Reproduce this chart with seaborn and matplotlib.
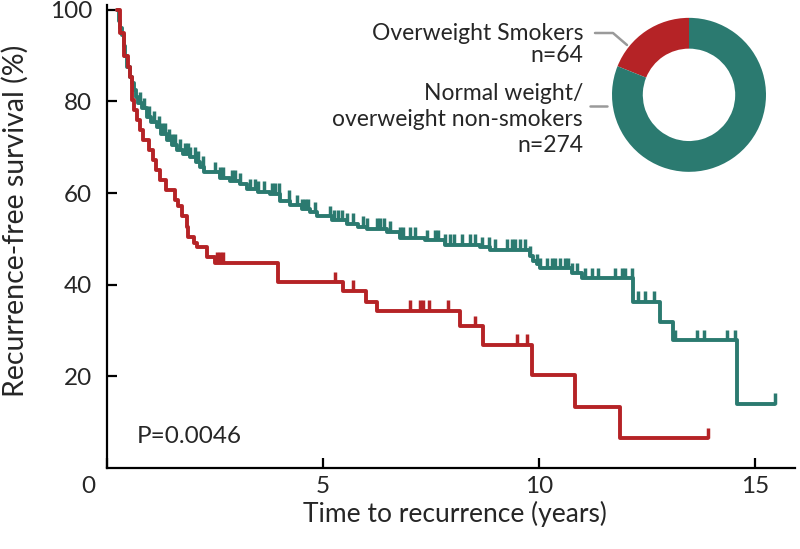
import numpy as np
import pandas as pd
import matplotlib
matplotlib.use("Agg")
import matplotlib.pyplot as plt
import matplotlib.transforms as mtransforms
from matplotlib.lines import Line2D
import seaborn as sns

TEAL = "#2b7a70"
RED = "#b52326"
GREY = "#9a9a9a"

# groups shown in the donut
group_labels = ["Overweight Smokers", "Normal weight/overweight non-smokers"]
group_sizes = [64, 274]

# Kaplan-Meier steps (years, % surviving)
smoker_time = [0.23, 0.30, 0.38, 0.48, 0.53, 0.57, 0.61, 0.70, 0.76, 0.84,
               0.97, 1.06, 1.14, 1.22, 1.37, 1.58, 1.65, 1.73, 1.85, 1.88,
               2.00, 2.08, 2.30, 2.50, 3.96, 5.47, 6.00, 6.24, 8.17, 8.70,
               9.83, 10.83, 11.88, 13.91]
smoker_surv = [100, 95, 90, 87.6, 85.4, 80.3, 78.2, 76, 73.8, 71.6,
               69.4, 67.2, 65.1, 62.9, 60.7, 58.5, 57.1, 54.9, 52.7, 50.5,
               49.1, 48.3, 46.1, 44.8, 40.5, 38.7, 36.3, 34.3, 30.9, 26.9,
               20.3, 13.4, 6.5, 6.5]
smoker_censor = [2.54, 2.62, 2.69, 5.28, 5.70, 7.01, 7.25, 7.32, 7.44, 7.89,
                 8.52, 9.49, 9.72, 13.91]

other_time = [0.23, 0.27, 0.30, 0.34, 0.38, 0.42, 0.47, 0.53, 0.57, 0.61,
              0.66, 0.72, 0.80, 0.92, 1.02, 1.15, 1.25, 1.38, 1.50, 1.61,
              1.75, 1.92, 2.05, 2.15, 2.23, 2.62, 2.85, 3.08, 3.23, 3.50,
              3.77, 4.00, 4.24, 4.50, 4.70, 4.85, 5.20, 5.55, 5.80, 6.01,
              6.47, 6.78, 7.36, 7.82, 8.63, 8.87, 9.79, 9.87, 9.95, 10.02,
              10.76, 10.99, 12.18, 12.80, 13.11, 14.58, 15.46]
other_surv = [100, 97.5, 96, 94.5, 92, 90, 87.5, 85.4, 84, 82.5,
              81, 79.7, 78.5, 76.7, 75.6, 74.5, 73, 71.6, 70.5, 69.4,
              68.6, 67.8, 66.8, 65.8, 64.5, 63.3, 62.7, 62.0, 60.8, 60.3,
              59.8, 58.3, 57.3, 56.5, 55.8, 54.9, 54.1, 53.3, 52.7, 52.2,
              51.5, 50.2, 49.7, 48.7, 48.2, 47.6, 46.2, 45.2, 44.5, 43.6,
              42.5, 41.4, 36.3, 31.9, 27.9, 14.0, 14.0]
other_censor = [0.75, 0.86, 0.97, 1.08, 1.19, 1.28, 1.34, 1.44, 1.50, 1.56,
                1.69, 1.81, 1.87, 1.92, 2.04, 2.11, 2.22, 2.50, 2.62,
                2.69, 2.89, 2.96, 3.08, 3.31, 3.43, 3.50, 3.62, 3.81, 3.89,
                3.97, 4.20, 4.39, 4.51, 4.58, 4.66, 4.81, 5.16, 5.24, 5.35,
                5.43, 5.55, 5.70, 5.93, 6.01, 6.24, 6.32, 6.40, 6.55, 6.78,
                6.86, 7.01, 7.13, 7.40, 7.59, 7.67, 7.82, 7.94, 8.02, 8.21,
                8.40, 8.52, 8.67, 8.83, 8.98, 9.25, 9.37, 9.44, 9.56, 9.68,
                9.79, 9.95, 10.02, 10.18, 10.29, 10.37, 10.49, 10.60, 10.68,
                10.76, 10.87, 11.06, 11.22, 11.37, 11.76, 11.91, 11.99, 12.14,
                12.30, 12.45, 12.65, 13.15, 13.65, 13.81, 14.34, 14.54, 15.46]

x_ticks = [0, 5, 10, 15]
y_ticks = [20, 40, 60, 80, 100]
p_text = "P=0.0046"

sns.set_style("ticks")
plt.rcParams["font.family"] = ["Lato", "DejaVu Sans"]

df = pd.concat([
    pd.DataFrame({"time": other_time, "surv": other_surv, "group": "other"}),
    pd.DataFrame({"time": smoker_time, "surv": smoker_surv, "group": "smoker"}),
])

fig = plt.figure(figsize=(8, 5.49), dpi=100)
ax = fig.add_axes([0.134, 0.1475, 0.86, 0.843])

sns.lineplot(data=df, x="time", y="surv", hue="group",
             hue_order=["other", "smoker"],
             palette={"other": TEAL, "smoker": RED},
             drawstyle="steps-post", estimator=None, sort=False,
             linewidth=2.8, legend=False, ax=ax)

# censor marks: short upward ticks sitting on the step level
for t, s, c, col in [(other_time, other_surv, other_censor, TEAL),
                     (smoker_time, smoker_surv, smoker_censor, RED)]:
    t = np.asarray(t)
    s = np.asarray(s)
    c = np.asarray(c)
    lvl = s[np.searchsorted(t, c, side="right") - 1]
    ax.vlines(c, lvl, lvl + 2.3, color=col, linewidth=2.5)

ax.set_xlim(0, 15.93)
ax.set_ylim(0, 101)
ax.set_xticks(x_ticks)
ax.set_yticks(y_ticks)
ax.tick_params(direction="in", length=7, width=1.6, labelsize=17.5,
               color="black")
ax.tick_params(axis="x", pad=6)
ax.tick_params(axis="y", pad=11)
for side in ["top", "right"]:
    ax.spines[side].set_visible(False)
for side in ["left", "bottom"]:
    ax.spines[side].set_linewidth(1.6)
    ax.spines[side].set_color("black")

# the origin label sits left of the axis corner
shift = mtransforms.ScaledTranslation(-0.19, 0, fig.dpi_scale_trans)
first = ax.get_xticklabels()[0]
first.set_transform(first.get_transform() + shift)

ax.set_xlabel("Time to recurrence (years)", fontsize=19)
ax.xaxis.label.set_va("center")
ax.xaxis.set_label_coords(0.506, -0.099)
ax.set_ylabel("Recurrence-free survival (%)", fontsize=20.5)
ax.yaxis.label.set_va("center")
ax.yaxis.set_label_coords(-0.134, 0.535)

ax.text(0.69, 6.8, p_text, fontsize=17.5, va="center", ha="left")

# donut with the group sizes
ax2 = fig.add_axes([0.765, 0.687, 0.1925, 0.2805])
ax2.pie(group_sizes, colors=[RED, TEAL], startangle=90, counterclock=True,
        wedgeprops=dict(width=0.4, edgecolor="none"))
ax2.set_xlim(-1, 1)
ax2.set_ylim(-1, 1)
ax2.set_aspect("equal")


def fx(px):
    return px / 800


def fy(py):
    return 1 - py / 549


txt = dict(fontsize=16.5, ha="right", va="center")
fig.text(fx(583), fy(33), "Overweight Smokers", **txt)
fig.text(fx(583), fy(56), f"n={group_sizes[0]}", **txt)
fig.text(fx(583), fy(93), "Normal weight/", **txt)
fig.text(fx(583), fy(120), "overweight non-smokers", **txt)
fig.text(fx(583), fy(145), f"n={group_sizes[1]}", **txt)

fig.add_artist(Line2D([fx(595), fx(613), fx(627)], [fy(33), fy(33), fy(45)],
                      color=GREY, linewidth=1.8))
fig.add_artist(Line2D([fx(590), fx(607)], [fy(106), fy(106)],
                      color=GREY, linewidth=1.8))

fig.savefig("out.png", dpi=100)
